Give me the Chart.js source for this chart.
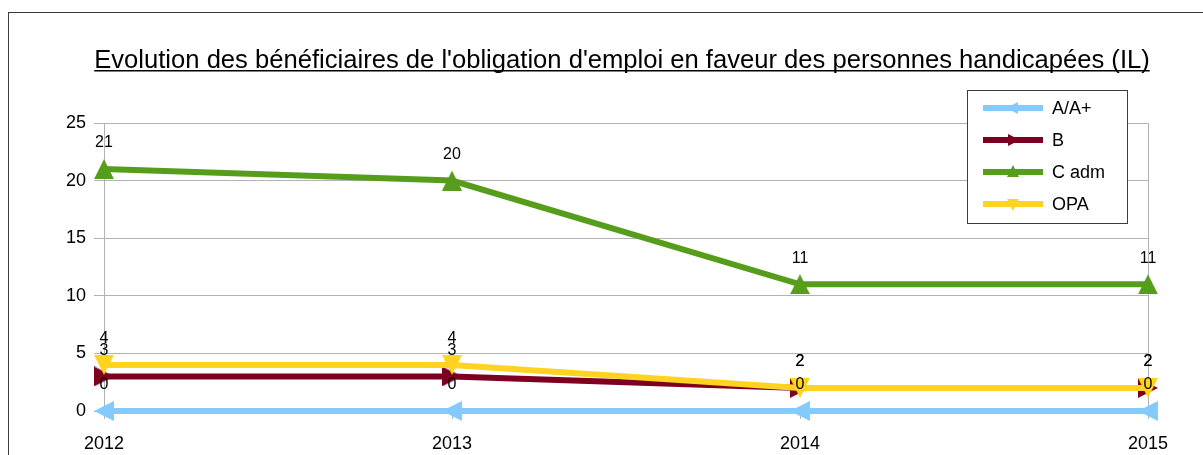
<!DOCTYPE html>
<html>
<head>
<meta charset="utf-8">
<script src="https://cdn.jsdelivr.net/npm/chart.js@4/dist/chart.umd.min.js"></script>
<style>
  html, body { margin: 0; padding: 0; background: #fff; }
  #wrap { width: 1203px; height: 455px; }
</style>
</head>
<body>
<div id="wrap"><canvas id="chart" width="1203" height="455"></canvas></div>
<script>
// données
const years = ['2012', '2013', '2014', '2015'];
const serieA = [0, 0, 0, 0];
const serieB = [3, 3, 2, 2];
const serieC = [21, 20, 11, 11];
const serieOPA = [4, 4, 2, 2];
const yTicks = [0, 5, 10, 15, 20, 25];

const titre = "Evolution des bénéficiaires de l'obligation d'emploi en faveur des personnes handicapées (IL)";
const police = '"Liberation Sans", Arial, sans-serif';

// styles des séries (ordre de la légende)
const series = [
    { label: 'A/A+', data: serieA, color: '#83caff', rot: -90, order: 3 },
    { label: 'B', data: serieB, color: '#7e0021', rot: 90, order: 2 },
    { label: 'C adm', data: serieC, color: '#579d1c', rot: 0, order: 1 },
    { label: 'OPA', data: serieOPA, color: '#ffd320', rot: 180, order: 0 },
];

// marqueur triangle (pointe vers le haut), tourné ensuite par pointRotation
function triangle(color, size) {
    const c = document.createElement('canvas');
    c.width = size;
    c.height = size;
    const g = c.getContext('2d');
    g.fillStyle = color;
    g.beginPath();
    g.moveTo(size / 2, 0);
    g.lineTo(size, size);
    g.lineTo(0, size);
    g.closePath();
    g.fill();
    return c;
}

// cadre, titre, légende et étiquettes de valeurs
const decor = {
    id: 'decor',
    beforeDraw(chart) {
        const ctx = chart.ctx;
        ctx.save();
        ctx.fillStyle = '#fff';
        ctx.fillRect(0, 0, chart.width, chart.height);
        ctx.strokeStyle = '#3c3c3c';
        ctx.lineWidth = 1;
        ctx.strokeRect(8.5, 12.5, 1300, 500);
        ctx.restore();
    },
    afterDatasetsDraw(chart) {
        const ctx = chart.ctx;
        ctx.save();
        ctx.fillStyle = '#000';
        ctx.font = '16px ' + police;
        ctx.textAlign = 'center';
        ctx.textBaseline = 'middle';
        chart.data.datasets.forEach((ds, i) => {
            const meta = chart.getDatasetMeta(i);
            meta.data.forEach((pt, j) => {
                ctx.fillText(String(ds.data[j]), pt.x, pt.y - 26);
            });
        });
        ctx.restore();
    },
    afterDraw(chart) {
        const ctx = chart.ctx;
        ctx.save();
        // titre souligné
        ctx.fillStyle = '#000';
        ctx.font = '25.6px ' + police;
        ctx.textAlign = 'center';
        ctx.textBaseline = 'alphabetic';
        const cx = 622, by = 68;
        ctx.fillText(titre, cx, by);
        const w = ctx.measureText(titre).width;
        ctx.fillRect(cx - w / 2, by + 2, w, 1.5);

        // légende
        const lx = 967, ly = 90, lw = 160, lh = 133;
        ctx.fillStyle = '#fff';
        ctx.fillRect(lx, ly, lw, lh);
        ctx.strokeStyle = '#3c3c3c';
        ctx.lineWidth = 1;
        ctx.strokeRect(lx + 0.5, ly + 0.5, lw, lh);
        ctx.font = '18px ' + police;
        ctx.textAlign = 'left';
        ctx.textBaseline = 'middle';
        series.forEach((s, i) => {
            const y = 108 + i * 32;
            ctx.strokeStyle = s.color;
            ctx.lineWidth = 6;
            ctx.beginPath();
            ctx.moveTo(983, y);
            ctx.lineTo(1043, y);
            ctx.stroke();
            ctx.save();
            ctx.translate(1013, y);
            ctx.rotate(s.rot * Math.PI / 180);
            ctx.fillStyle = s.color;
            ctx.beginPath();
            ctx.moveTo(0, -7);
            ctx.lineTo(6, 5);
            ctx.lineTo(-6, 5);
            ctx.closePath();
            ctx.fill();
            ctx.restore();
            ctx.fillStyle = '#000';
            ctx.fillText(s.label, 1052, y + 1);
        });
        ctx.restore();
    }
};

new Chart(document.getElementById('chart'), {
    type: 'line',
    data: {
        labels: years,
        datasets: series.map(s => ({
            label: s.label,
            data: s.data,
            borderColor: s.color,
            backgroundColor: s.color,
            borderWidth: 6,
            pointStyle: triangle(s.color, 20),
            pointRotation: s.rot,
            pointRadius: 10,
            pointHoverRadius: 10,
            pointBorderWidth: 0,
            order: s.order,
            tension: 0,
            clip: false,
        })),
    },
    options: {
        responsive: false,
        animation: false,
        devicePixelRatio: 1,
        layout: { padding: { left: 0, top: 123, right: 55, bottom: 0 } },
        plugins: {
            legend: { display: false },
            title: { display: false },
            tooltip: { enabled: false },
        },
        scales: {
            x: {
                offset: false,
                grid: {
                    color: (c) => (c.index === 0 || c.index === years.length - 1) ? '#b3b3b3' : 'transparent',
                    tickColor: '#b3b3b3',
                    tickLength: 8,
                    lineWidth: 1,
                },
                border: { display: false },
                ticks: {
                    color: '#000',
                    font: { family: police, size: 18 },
                    padding: 14,
                    maxRotation: 0,
                },
                afterFit(scale) { scale.height = 44; },
            },
            y: {
                min: 0,
                max: 25,
                afterBuildTicks(scale) { scale.ticks = yTicks.map(v => ({ value: v })); },
                grid: {
                    color: '#b3b3b3',
                    tickLength: 10,
                    lineWidth: 1,
                },
                border: { display: false },
                ticks: {
                    color: '#000',
                    font: { family: police, size: 18 },
                    padding: 8,
                },
                afterFit(scale) { scale.width = 104; },
            },
        },
    },
    plugins: [decor],
});
</script>
</body>
</html>
